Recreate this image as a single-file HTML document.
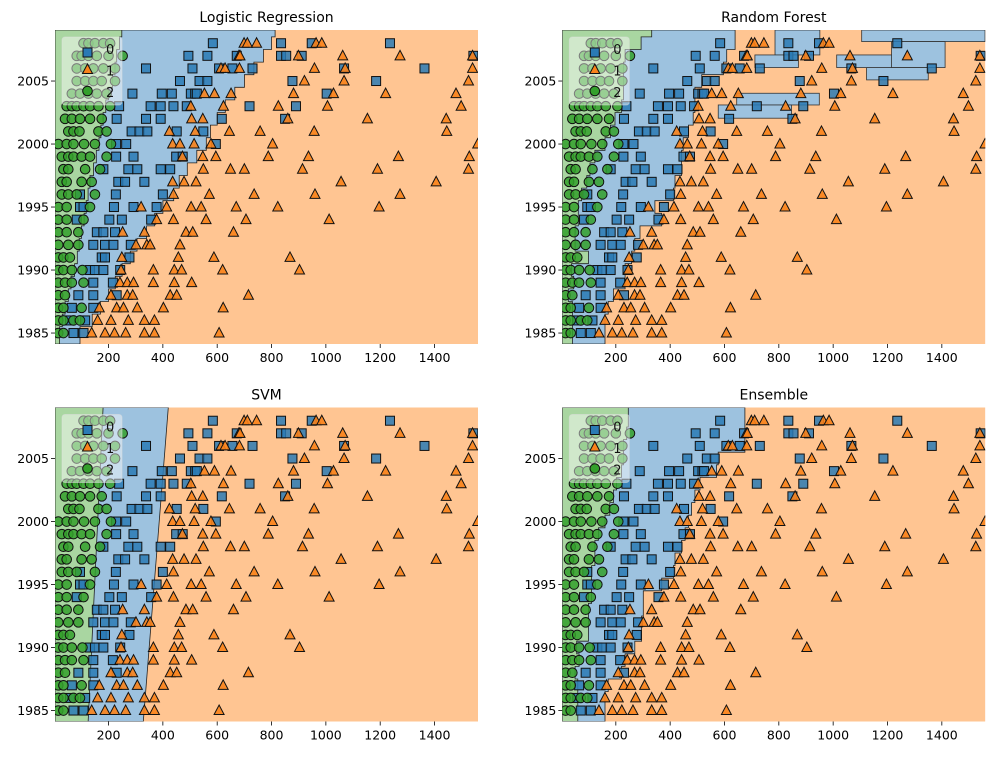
<!DOCTYPE html>
<html><head><meta charset="utf-8">
<style>
html,body{margin:0;padding:0;background:#fff;}
svg{display:block;font-family:"DejaVu Sans","Liberation Sans",sans-serif;}
</style></head>
<body>
<svg id="fig" width="995" height="757" viewBox="0 0 995 757" xmlns="http://www.w3.org/2000/svg"></svg>
<script>
const titles = ["Logistic Regression","Random Forest","SVM","Ensemble"];
const xTicks = [200,400,600,800,1000,1200,1400];
const yTicks = [1985,1990,1995,2000,2005];
const bandYears = [1985,1986,1987,1988,1989,1990,1991,1992,1993,1994,1995,1996,1997,1998,1999,2000,2001,2002,2003,2004,2005,2006,2007,2008,2009];
// decision boundaries per year band (x where green ends / where blue ends)
const lrGreen = [20,30,40,52,62,75,85,92,100,110,118,125,132,145,155,165,172,180,190,200,215,224,230,240,249];
const lrBlue  = [95,140,170,200,225,250,280,305,340,370,400,440,460,490,525,560,575,600,630,665,700,735,770,800,813];
const rfGreen = [40,40,40,25,45,37,99,50,50,62,62,74,93,105,123,160,180,197,221,228,228,228,234,293,332];
const rfBlue  = [160,160,172,191,234,234,258,270,289,369,344,412,418,442,442,448,467,485,491,491,516,596,608,639,639];
const rfExtraBlue = [[786,951,2007.07,2009.05],[712,872,2006.07,2007.07],[1105,1559,2008.13,2009.05],[1215,1412,2006.07,2008.13],[1123,1350,2005.09,2006.07],[1013,1215,2006.07,2007.07],[645,949,2003.1,2004.03],[577,847,2002.05,2003.1]];
const ensGreen = [60,60,60,50,65,56,99,99,99,111,111,111,123,123,136,160,178,191,203,221,228,228,240,246,246];
const ensBlue  = [160,160,172,221,234,270,295,295,301,301,369,412,418,442,455,467,479,491,510,571,577,675,675,675,675];
const svmGreenLine = [125,180]; // x at bottom, x at top
const svmBlueLine = [328,420];
// observations
const squares = [[2008,[584,835,948,1236]],[2007,[494,564,672,835,854,911,1543]],[2006,[338,509,607,656,730,1067,1363]],[2005,[463,535,564,877,1185]],[2004,[288,396,433,503,519,525,1003]],[2003,[239,355,392,439,488,719,890]],[2002,[230,338,392,617,850]],[2001,[285,314,343,451,549]],[2000,[228,265,595]],[1999,[228,292,449,473]],[1998,[181,273,306,392,427]],[1997,[236,261,332]],[1996,[95,227,400]],[1995,[95,108,220,292,377]],[1994,[83,203,249,357]],[1993,[157,181,224]],[1992,[144,187,218,282]],[1991,[175,187,277]],[1990,[132,150,181,243]],[1989,[144,216]],[1988,[89,144,230]],[1987,[65,144]],[1986,[58,114]],[1985,[71,108]]];
const triangles = [[2008,[699,711,745,964,985]],[2007,[680,684,899,1062,1273,1540]],[2006,[614,629,682,958,1071,1540]],[2005,[921,1067,1525]],[2004,[553,590,651,881,1028,1220,1479]],[2003,[503,623,825,1006,1498]],[2002,[506,547,860,1153,1443]],[2001,[424,519,645,758,957,1445]],[2000,[436,463,515,577,804,1559]],[1999,[472,547,595,788,936,1267,1528]],[1998,[549,649,700,914,1190,1525]],[1997,[436,478,522,1056,1406]],[1996,[439,571,736,960,1273]],[1995,[320,414,504,541,670,823,1196]],[1994,[377,439,559,706,1012]],[1993,[252,332,485,510,660]],[1992,[301,341,353,463]],[1991,[249,457,588,868]],[1990,[246,365,442,469,620,903]],[1989,[242,269,292,365,442,506]],[1988,[209,269,289,427,451,715]],[1987,[166,230,255,306,402,622]],[1986,[160,209,273,332,369]],[1985,[138,187,222,263,332,369,607]]];
const circles = [[2008,[108,126,150,181,206]],[2007,[83,101,126,157,200,252]],[2006,[83,114,144,181,224]],[2005,[83,114,144,175,224]],[2004,[65,95,126,157,193]],[2003,[46,65,83,108,132,163,206]],[2002,[40,65,95,132,175]],[2001,[52,71,93,163,193]],[2000,[15,46,71,110,150,209]],[1999,[28,52,71,101,132,193]],[1998,[34,52,114,169]],[1997,[28,46,101,138]],[1996,[28,52,83,150]],[1995,[15,46,132]],[1994,[15,46,108]],[1993,[15,46,89]],[1992,[15,52,89]],[1991,[15,34,58]],[1990,[15,34,65,104]],[1989,[15,40,65,108]],[1988,[15,40]],[1987,[15,34,101]],[1986,[15,34,71,95]],[1985,[15,34]]];

const XMIN=3, XMAX=1560, YMIN=1984.13, YMAX=2009.05, W=423, H=314;
const panels=[{x0:55,y0:30},{x0:562.3,y0:30},{x0:55,y0:407.5},{x0:562.3,y0:407.5}];
const NS="http://www.w3.org/2000/svg";
const fig=document.getElementById('fig');
function mk(tag,attrs,parent){const e=document.createElementNS(NS,tag);for(const k in attrs)e.setAttribute(k,attrs[k]);(parent||fig).appendChild(e);return e;}

function stepPoly(edges,sx,sy){
  // build polygon from left edge through step edges
  let pts=[[sx(XMIN),sy(YMIN)]];
  for(let i=0;i<bandYears.length;i++){
    const lo = i===0?YMIN:bandYears[i]-0.5;
    const hi = i===bandYears.length-1?YMAX:bandYears[i]+0.5;
    pts.push([sx(edges[i]),sy(lo)]);pts.push([sx(edges[i]),sy(hi)]);
  }
  pts.push([sx(XMIN),sy(YMAX)]);
  return pts.map(p=>p[0].toFixed(1)+','+p[1].toFixed(1)).join(' ');
}

panels.forEach((p,pi)=>{
  const sx=x=>p.x0+(x-XMIN)*W/(XMAX-XMIN);
  const sy=y=>p.y0+(YMAX-y)*H/(YMAX-YMIN);
  const g=mk('g',{});
  
  
  const clipId='clip'+pi;
  const cp=mk('clipPath',{id:clipId},g);
  mk('rect',{x:p.x0,y:p.y0,width:W,height:H},cp);
  const reg=mk('g',{'clip-path':'url(#'+clipId+')'},g);
  const bg=mk('rect',{x:p.x0,y:p.y0,width:W,height:H,fill:'#ffc592'},reg);
  
  
  let blueEl,greenEl;
  if(pi===2){
    blueEl=mk('polygon',{points:[[sx(XMIN),sy(YMIN)],[sx(svmBlueLine[0]),sy(YMIN)],[sx(svmBlueLine[1]),sy(YMAX)],[sx(XMIN),sy(YMAX)]].map(a=>a.join(',')).join(' '),fill:'#9dc2df',stroke:'#222','stroke-width':0.8},reg);
    greenEl=mk('polygon',{points:[[sx(XMIN),sy(YMIN)],[sx(svmGreenLine[0]),sy(YMIN)],[sx(svmGreenLine[1]),sy(YMAX)],[sx(XMIN),sy(YMAX)]].map(a=>a.join(',')).join(' '),fill:'#a9d6a1',stroke:'#222','stroke-width':0.8},reg);
  } else {
    const bE=[lrBlue,rfBlue,null,ensBlue][pi], gE=[lrGreen,rfGreen,null,ensGreen][pi];
    blueEl=mk('polygon',{points:stepPoly(bE,sx,sy),fill:'#9dc2df',stroke:'#222','stroke-width':0.8},reg);
    if(pi===1){
      rfExtraBlue.forEach(r=>{
        const e=mk('rect',{x:sx(r[0]),y:sy(r[3]),width:sx(r[1])-sx(r[0]),height:sy(r[2])-sy(r[3]),fill:'#9dc2df',stroke:'#333','stroke-width':0.8},reg);
        
        
      });
    }
    greenEl=mk('polygon',{points:stepPoly(gE,sx,sy),fill:'#a9d6a1',stroke:'#222','stroke-width':0.8},reg);
  }
  
  
  
  
  // points
  const pg=mk('g',{'clip-path':'url(#'+clipId+')'},g);
  squares.forEach(r=>r[1].forEach(x=>{
    const e=mk('rect',{x:sx(x)-4.5,y:sy(r[0])-4.5,width:9,height:9,fill:'#2a7ab5','fill-opacity':0.85,stroke:'#111','stroke-width':1},pg);
    
    
  }));
  triangles.forEach(r=>r[1].forEach(x=>{
    const cx=sx(x),cy=sy(r[0]);
    const e=mk('polygon',{points:`${cx},${cy-5.5} ${cx+5},${cy+4} ${cx-5},${cy+4}`,fill:'#f9821a','fill-opacity':0.9,stroke:'#111','stroke-width':1},pg);
    
    
  }));
  circles.forEach(r=>r[1].forEach(x=>{
    const e=mk('circle',{cx:sx(x),cy:sy(r[0]),r:4.8,fill:'#34a02c','fill-opacity':0.85,stroke:'#111','stroke-width':1},pg);
    
    
  }));
  // legend
  const lg=mk('g',{},g);
  
  
  const lx=p.x0+7, ly=p.y0+7;
  mk('rect',{x:lx,y:ly,width:60,height:68,rx:3,fill:'#ffffff','fill-opacity':0.45,stroke:'#ddd','stroke-opacity':0.5},lg);
  mk('rect',{x:lx+21,y:ly+11,width:9,height:9,fill:'#2a7ab5',stroke:'#111'},lg);
  mk('polygon',{points:`${lx+25.5},${ly+27} ${lx+30.5},${ly+36.5} ${lx+20.5},${ly+36.5}`,fill:'#f9821a',stroke:'#111'},lg);
  mk('circle',{cx:lx+25.5,cy:ly+54,r:4.8,fill:'#34a02c',stroke:'#111'},lg);
  ['0','1','2'].forEach((t,i)=>{
    const e=mk('text',{x:lx+44,y:ly+17+i*21.5,'font-size':13,fill:'#111','text-anchor':'start'},lg);
    e.textContent=t;
    
    
  });
  // title
  const tt=mk('text',{x:p.x0+W/2,y:p.y0-8,'font-size':14,'text-anchor':'middle',fill:'#000'},g);
  tt.textContent=titles[pi];
  
  
  // ticks
  xTicks.forEach(v=>{
    const X=sx(v);
    mk('line',{x1:X,x2:X,y1:p.y0+H,y2:p.y0+H+4,stroke:'#000','stroke-width':0.8},g);
    const t=mk('text',{x:X,y:p.y0+H+18,'font-size':12.5,'text-anchor':'middle',fill:'#000'},g);
    t.textContent=v;
    
    
  });
  yTicks.forEach(v=>{
    const Y=sy(v);
    mk('line',{x1:p.x0-4,x2:p.x0,y1:Y,y2:Y,stroke:'#000','stroke-width':0.8},g);
    const t=mk('text',{x:p.x0-6,y:Y+4.5,'font-size':12.5,'text-anchor':'end',fill:'#000'},g);
    t.textContent=v;
    
    
  });
});
</script>
</body></html>
